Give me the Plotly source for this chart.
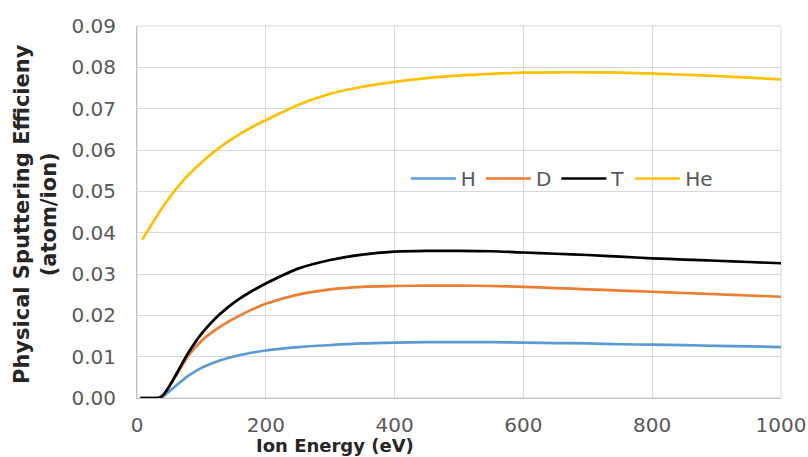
import plotly.graph_objects as go

energy = [5, 10, 20, 30, 35, 40, 50, 60, 70, 80, 100, 120, 140, 160, 180, 200, 250, 300, 350, 400,
          450, 500, 550, 600, 650, 700, 750, 800, 850, 900, 950, 1000]

H = [0, 0, 0, 0, 0, 0.0003, 0.0016, 0.0029, 0.0042, 0.0054, 0.0073, 0.0086, 0.0096, 0.0104, 0.0110, 0.0115,
     0.0123, 0.0128, 0.0132, 0.0134, 0.0135, 0.0135, 0.0135, 0.0134, 0.0133, 0.0132, 0.0130, 0.0129,
     0.0128, 0.0126, 0.0125, 0.0123]
D = [0, 0, 0, 0, 0.0001, 0.0006, 0.0027, 0.0052, 0.0078, 0.0103, 0.0138, 0.0163, 0.0183, 0.0200, 0.0215, 0.0228,
     0.0250, 0.0263, 0.0269, 0.0271, 0.0272, 0.0272, 0.0271, 0.0269, 0.0266, 0.0263, 0.0260, 0.0257,
     0.0254, 0.0251, 0.0248, 0.0245]
T = [0, 0, 0, 0, 0.0001, 0.0006, 0.0028, 0.0055, 0.0083, 0.0110, 0.0155, 0.0190, 0.0218, 0.0241, 0.0260, 0.0277,
     0.0313, 0.0334, 0.0347, 0.0354, 0.0356, 0.0356, 0.0355, 0.0352, 0.0349, 0.0346, 0.0342, 0.0338,
     0.0335, 0.0332, 0.0329, 0.0326]
He_energy = [8, 10, 20, 30, 40, 50, 60, 70, 80, 100, 120, 140, 160, 180, 200, 250, 300, 350, 400,
             450, 500, 550, 600, 650, 700, 750, 800, 850, 900, 950, 1000]
He = [0.0383, 0.0388, 0.0413, 0.0438, 0.0462, 0.0484, 0.0504, 0.0523, 0.0540, 0.0570, 0.0596, 0.0619, 0.0639,
      0.0657, 0.0672, 0.0709, 0.0736, 0.0753, 0.0765, 0.0774, 0.0780, 0.0784, 0.0787, 0.0788, 0.0788,
      0.0787, 0.0785, 0.0782, 0.0779, 0.0775, 0.0771]

series = [("H", energy, H, "#5B9BD5"), ("D", energy, D, "#ED7D31"),
          ("T", energy, T, "#000000"), ("He", He_energy, He, "#FFC000")]

x_ticks = [0, 200, 400, 600, 800, 1000]
y_ticks = [0.00, 0.01, 0.02, 0.03, 0.04, 0.05, 0.06, 0.07, 0.08, 0.09]

fig = go.Figure()
for name, xs, ys, col in series:
    fig.add_trace(go.Scatter(x=xs, y=ys, name=name, mode="lines",
                             line=dict(color=col, width=2.7, shape="spline", smoothing=0.8)))

font = "DejaVu Sans, Verdana, sans-serif"
fig.update_layout(
    width=808, height=457,
    margin=dict(l=137, r=27, t=26, b=59),
    paper_bgcolor="white", plot_bgcolor="white",
    font=dict(family=font, color="#595959", size=20),
    showlegend=True,
    legend=dict(orientation="h", x=0.4175, y=0.59, xanchor="left", yanchor="middle",
                bgcolor="rgba(0,0,0,0)", font=dict(size=20, color="#595959"),
                itemwidth=45, tracegroupgap=0),
    xaxis=dict(range=[0, 1000], tickvals=x_ticks, showgrid=True, gridcolor="#d9d9d9", gridwidth=1,
               showline=True, linecolor="#bfbfbf", zeroline=False, ticks="", automargin=False,
               tickfont=dict(size=20, color="#595959"), ticklabelstandoff=9),
    yaxis=dict(range=[0, 0.09], tickvals=y_ticks, tickformat=".2f", showgrid=True, gridcolor="#d9d9d9",
               gridwidth=1, showline=True, linecolor="#bfbfbf", zeroline=False, ticks="", automargin=False,
               tickfont=dict(size=20, color="#595959"), ticklabelstandoff=16),
)
fig.add_annotation(text="<b>Physical Sputtering Efficieny<br>(atom/ion)</b>", xref="paper", yref="paper",
                   x=0, y=0.5, xanchor="center", yanchor="middle", xshift=-102, yshift=-2, textangle=-90,
                   showarrow=False, font=dict(size=21, color="#262626", family=font))
fig.add_annotation(text="<b>Ion Energy (eV)</b>", xref="paper", yref="paper",
                   x=0.3075, y=0, xanchor="center", yanchor="middle", yshift=-47,
                   showarrow=False, font=dict(size=18, color="#262626", family=font))
fig.add_shape(type="rect", xref="paper", yref="paper", x0=0, y0=0, x1=1, y1=1,
              line=dict(color="#d9d9d9", width=1), layer="below")

fig.write_html("out.html")
